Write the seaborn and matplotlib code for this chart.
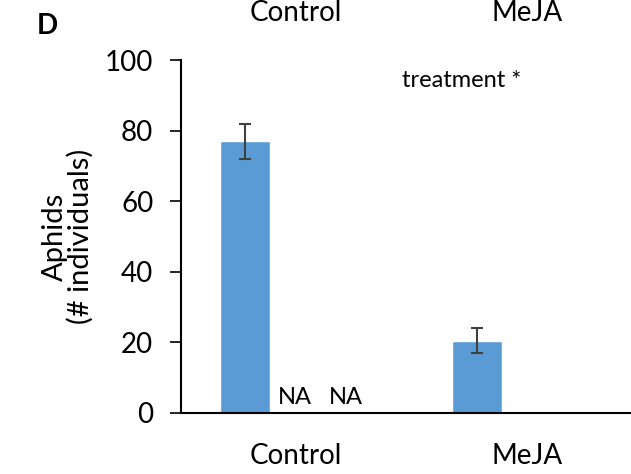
import numpy as np
import pandas as pd
import matplotlib
matplotlib.use("Agg")
import matplotlib.pyplot as plt
import seaborn as sns

# Dane
treatments = ["Control", "MeJA"]
groups = ["g1", "g2", "g3"]
aphids_mean = [77.0, np.nan, np.nan, 20.5, np.nan, np.nan]
aphids_err = [5.0, np.nan, np.nan, 3.5, np.nan, np.nan]
na_labels = ["", "NA", "NA", "", "", ""]
y_ticks = [0, 20, 40, 60, 80, 100]

BAR_COLOR = "#5B9BD5"
GROUP_WIDTH = 0.65

df = pd.DataFrame({
    "treatment": np.repeat(treatments, len(groups)),
    "group": groups * len(treatments),
    "mean": aphids_mean,
    "err": aphids_err,
    "na": na_labels,
})

sns.set_style("white")
plt.rcParams["font.family"] = ["Lato", "DejaVu Sans"]
plt.rcParams["text.color"] = "black"
plt.rcParams["xtick.color"] = "black"
plt.rcParams["ytick.color"] = "black"
plt.rcParams["axes.labelcolor"] = "black"

fig = plt.figure(figsize=(6.31, 4.74), dpi=100)
ax = fig.add_axes([0.287, 0.129, 0.72, 0.744])

sns.barplot(data=df, x="treatment", y="mean", hue="group", order=treatments,
            hue_order=groups, palette=[BAR_COLOR] * 3, width=GROUP_WIDTH,
            errorbar=None, legend=False, ax=ax, saturation=1)

# Slupki bledow i etykiety NA
n = len(groups)
bw = GROUP_WIDTH / n
for i, row in df.iterrows():
    t_idx = treatments.index(row["treatment"])
    g_idx = groups.index(row["group"])
    xpos = t_idx - GROUP_WIDTH / 2 + bw * (g_idx + 0.5)
    if not np.isnan(row["mean"]):
        ax.errorbar(xpos, row["mean"], yerr=row["err"], fmt="none",
                    ecolor="#404040", elinewidth=1.5, capsize=4.5, capthick=1.5)
    if row["na"]:
        ax.text(xpos, 1.5, row["na"], ha="center", va="bottom", fontsize=17)

ax.set_ylim(0, 100)
ax.set_xlim(-0.494, 1.47)
ax.set_yticks(y_ticks)
ax.tick_params(axis="y", labelsize=20, length=8, width=1.2, direction="out",
               left=True, pad=12)
ax.tick_params(axis="x", labelsize=20, length=0, pad=22)
ax.set_xlabel("")
ax.set_ylabel("Aphids\n(# individuals)", fontsize=21, labelpad=8,
              linespacing=0.95)

sns.despine(ax=ax)
for s in ["left", "bottom"]:
    ax.spines[s].set_color("black")
    ax.spines[s].set_linewidth(1.5)

ax.text(0.487, 0.943, "treatment *", transform=ax.transAxes, fontsize=17,
        ha="left", va="center")

# Naglowki kolumn (uciete u gory) i litera panelu
for t_idx, name in enumerate(treatments):
    ax.annotate(name, xy=(t_idx, 1.0), xycoords=("data", "figure fraction"),
                fontsize=20, ha="center", va="top")
fig.text(0.058, 0.945, "D", fontsize=20, fontweight="bold", ha="left", va="center")

fig.savefig("out.png", dpi=100)
